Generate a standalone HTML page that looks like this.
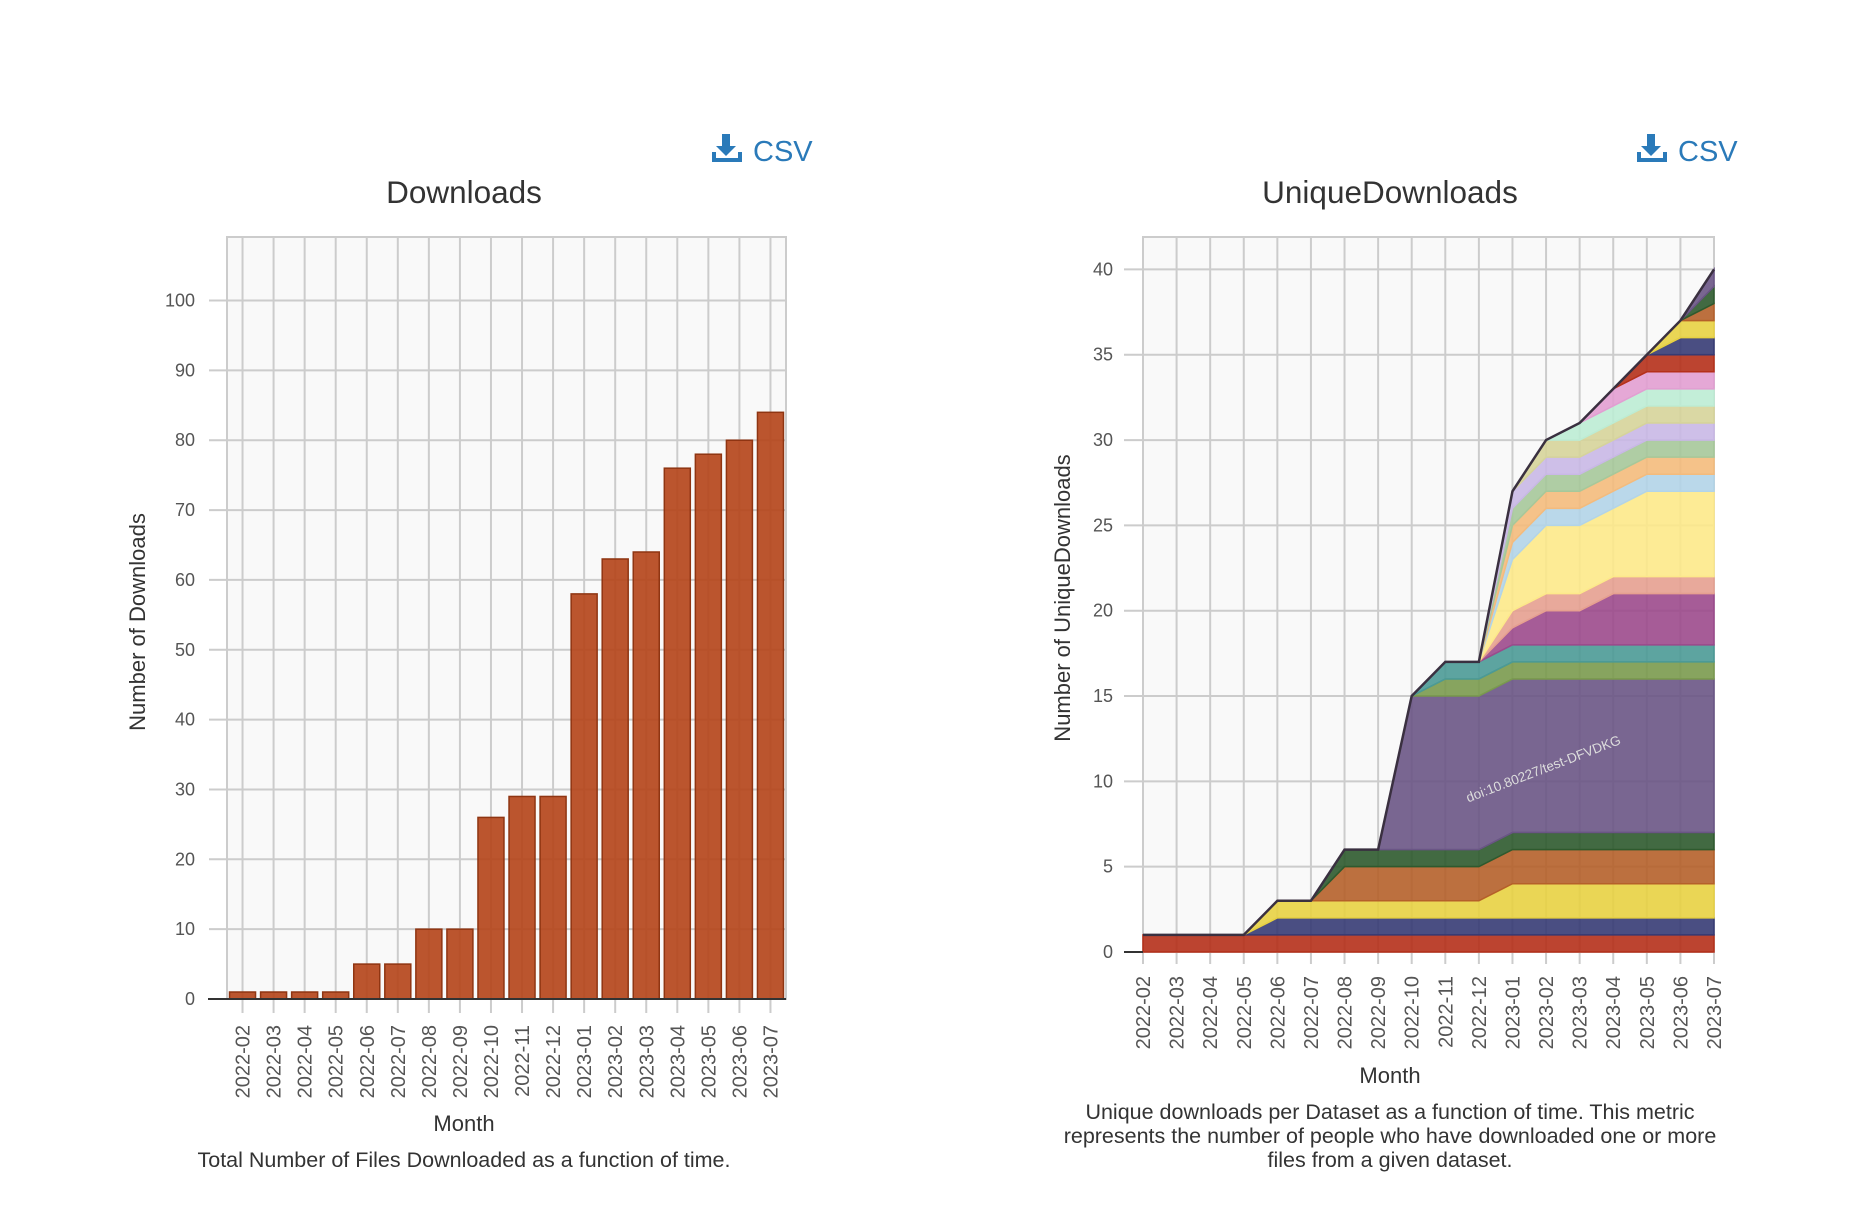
<!DOCTYPE html>
<html><head><meta charset="utf-8"><style>
body{margin:0;background:#fff;font-family:"Liberation Sans",sans-serif}
svg{display:block}
</style></head><body>
<svg id="s" width="1854" height="1214" font-family="Liberation Sans, sans-serif">
<g>
 <path d="M722 134h8v12h6l-10 10-10-10h6z M712 152h4v6h22v-6h4v10h-30z" fill="#2a7ab9"/>
 <text x="753" y="161" font-size="29" fill="#2a7ab9">CSV</text>
</g>
<g>
 <path d="M1647 134h8v12h6l-10 10-10-10h6z M1637 152h4v6h22v-6h4v10h-30z" fill="#2a7ab9"/>
 <text x="1678" y="161" font-size="29" fill="#2a7ab9">CSV</text>
</g>
<text x="464" y="203" font-size="31.5" fill="#333" text-anchor="middle">Downloads</text>
<text x="1390" y="203" font-size="31.5" fill="#333" text-anchor="middle">UniqueDownloads</text>
<g id="L"></g><g id="R"></g>
<text x="464" y="1131" font-size="22" fill="#333" text-anchor="middle">Month</text>
<text x="464" y="1167" font-size="21.5" fill="#333" text-anchor="middle">Total Number of Files Downloaded as a function of time.</text>
<text transform="translate(145,622) rotate(-90)" font-size="22" fill="#333" text-anchor="middle">Number of Downloads</text>
<text x="1390" y="1083" font-size="22" fill="#333" text-anchor="middle">Month</text>
<g font-size="21.5" fill="#333" text-anchor="middle">
<text x="1390" y="1119">Unique downloads per Dataset as a function of time. This metric</text>
<text x="1390" y="1143">represents the number of people who have downloaded one or more</text>
<text x="1390" y="1167">files from a given dataset.</text></g>
<text transform="translate(1070,598) rotate(-90)" font-size="22" fill="#333" text-anchor="middle">Number of UniqueDownloads</text>
</svg>
<script>
const months=["2022-02","2022-03","2022-04","2022-05","2022-06","2022-07","2022-08","2022-09","2022-10","2022-11","2022-12","2023-01","2023-02","2023-03","2023-04","2023-05","2023-06","2023-07"];
const downloads=[1,1,1,1,5,5,10,10,26,29,29,58,63,64,76,78,80,84];
const leftTicks=[0,10,20,30,40,50,60,70,80,90,100];
const rightTicks=[0,5,10,15,20,25,30,35,40];
const layers=[
[1,1,1,1,1,1,1,1,1,1,1,1,1,1,1,1,1,1],
[0,0,0,0,1,1,1,1,1,1,1,1,1,1,1,1,1,1],
[0,0,0,0,1,1,1,1,1,1,1,2,2,2,2,2,2,2],
[0,0,0,0,0,0,2,2,2,2,2,2,2,2,2,2,2,2],
[0,0,0,0,0,0,1,1,1,1,1,1,1,1,1,1,1,1],
[0,0,0,0,0,0,0,0,9,9,9,9,9,9,9,9,9,9],
[0,0,0,0,0,0,0,0,0,1,1,1,1,1,1,1,1,1],
[0,0,0,0,0,0,0,0,0,1,1,1,1,1,1,1,1,1],
[0,0,0,0,0,0,0,0,0,0,0,1,2,2,3,3,3,3],
[0,0,0,0,0,0,0,0,0,0,0,1,1,1,1,1,1,1],
[0,0,0,0,0,0,0,0,0,0,0,3,4,4,4,5,5,5],
[0,0,0,0,0,0,0,0,0,0,0,1,1,1,1,1,1,1],
[0,0,0,0,0,0,0,0,0,0,0,1,1,1,1,1,1,1],
[0,0,0,0,0,0,0,0,0,0,0,1,1,1,1,1,1,1],
[0,0,0,0,0,0,0,0,0,0,0,1,1,1,1,1,1,1],
[0,0,0,0,0,0,0,0,0,0,0,0,1,1,1,1,1,1],
[0,0,0,0,0,0,0,0,0,0,0,0,0,1,1,1,1,1],
[0,0,0,0,0,0,0,0,0,0,0,0,0,0,1,1,1,1],
[0,0,0,0,0,0,0,0,0,0,0,0,0,0,0,1,1,1],
[0,0,0,0,0,0,0,0,0,0,0,0,0,0,0,0,1,1],
[0,0,0,0,0,0,0,0,0,0,0,0,0,0,0,0,1,1],
[0,0,0,0,0,0,0,0,0,0,0,0,0,0,0,0,0,1],
[0,0,0,0,0,0,0,0,0,0,0,0,0,0,0,0,0,1],
[0,0,0,0,0,0,0,0,0,0,0,0,0,0,0,0,0,1]];
const layerColors=["#b5301a","#363b74","#e8d142","#b5602a","#2e5a2e","#6a5585","#7a9a4e","#4b9a96","#9c4a8c","#e6a090","#fde98a","#b2d4e8","#f4bb7c","#a6c89a","#c9b8e6","#d6d49a","#bdecd4","#e29ed2","#b5301a","#363b74","#e8d142","#b5602a","#2e5a2e","#6a5585"];
const NS="http://www.w3.org/2000/svg";
function mk(p,t,a){const e=document.createElementNS(NS,t);for(const k in a)e.setAttribute(k,a[k]);p.appendChild(e);return e;}
// Left chart
const L=document.getElementById('L');
const lx0=227,lx1=786,ly0=999,lyTop=237,lmax=109.1;
const ly=v=>ly0-(v/lmax)*(ly0-lyTop);
const bw=(lx1-lx0)/months.length;
const lxc=i=>lx0+bw*(i+0.5);
let bg=mk(L,'rect',{x:lx0,y:lyTop,width:lx1-lx0,height:ly0-lyTop,fill:'#f9f9f9',stroke:'#ccc','stroke-width':2});

leftTicks.forEach(t=>{mk(L,'line',{x1:lx0-18,x2:lx1,y1:ly(t),y2:ly(t),stroke:'#ccc','stroke-width':2});
 const tx=mk(L,'text',{x:lx0-32,y:ly(t)+6,'font-size':18,fill:'#555','text-anchor':'end'});tx.textContent=t;
 });
months.forEach((m,i)=>{mk(L,'line',{x1:lxc(i),x2:lxc(i),y1:lyTop,y2:ly0+14,stroke:'#ccc','stroke-width':2});
 const tx=mk(L,'text',{transform:`translate(${lxc(i)+7},${ly0+26}) rotate(-90)`,'font-size':20,fill:'#555','text-anchor':'end'});tx.textContent=m;
 });
downloads.forEach((v,i)=>{const r=mk(L,'rect',{x:lxc(i)-13,y:ly(v),width:26,height:ly0-ly(v),fill:'#b5461c','fill-opacity':0.92,stroke:'#8f3512','stroke-width':1.5});
 });
mk(L,'line',{x1:lx0-19,x2:lx1,y1:ly0,y2:ly0,stroke:'#333','stroke-width':2});
// Right chart
const R=document.getElementById('R');
const rx0=1143,rx1=1714,ry0=952,ryTop=237,rmax=41.9;
const ry=v=>ry0-(v/rmax)*(ry0-ryTop);
const rx=i=>rx0+(rx1-rx0)*i/(months.length-1);
bg=mk(R,'rect',{x:rx0,y:ryTop,width:rx1-rx0,height:ry0-ryTop,fill:'#f9f9f9',stroke:'#ccc','stroke-width':2});

rightTicks.forEach(t=>{mk(R,'line',{x1:rx0-19,x2:rx1,y1:ry(t),y2:ry(t),stroke:'#ccc','stroke-width':2});
 const tx=mk(R,'text',{x:rx0-30,y:ry(t)+6,'font-size':18,fill:'#555','text-anchor':'end'});tx.textContent=t;
 });
months.forEach((m,i)=>{mk(R,'line',{x1:rx(i),x2:rx(i),y1:ryTop,y2:ry0+12,stroke:'#ccc','stroke-width':2});
 const tx=mk(R,'text',{transform:`translate(${rx(i)+7},${ry0+24}) rotate(-90)`,'font-size':20,fill:'#555','text-anchor':'end'});tx.textContent=m;
 });
let base=months.map(()=>0);
layers.forEach((vals,k)=>{const top=base.map((b,i)=>b+vals[i]);
 let d='M'+top.map((v,i)=>rx(i)+','+ry(v)).join('L');
 for(let i=months.length-1;i>=0;i--)d+='L'+rx(i)+','+ry(base[i]);
 const p=mk(R,'path',{d:d+'Z',fill:layerColors[k],'fill-opacity':0.9,stroke:layerColors[k],'stroke-width':1.5});
 
 base=top;});
mk(R,'path',{d:'M'+base.map((v,i)=>rx(i)+','+ry(v)).join('L'),fill:'none',stroke:'#3a3040','stroke-width':2.5});
mk(R,'line',{x1:rx0-19,x2:rx0,y1:ry0,y2:ry0,stroke:'#333','stroke-width':2});
const lab=mk(R,'text',{transform:'translate(1545,773) rotate(-21)','font-size':13.5,fill:'#ddd','text-anchor':'middle'});
lab.textContent='doi:10.80227/test-DFVDKG';


</script>
</body></html>
